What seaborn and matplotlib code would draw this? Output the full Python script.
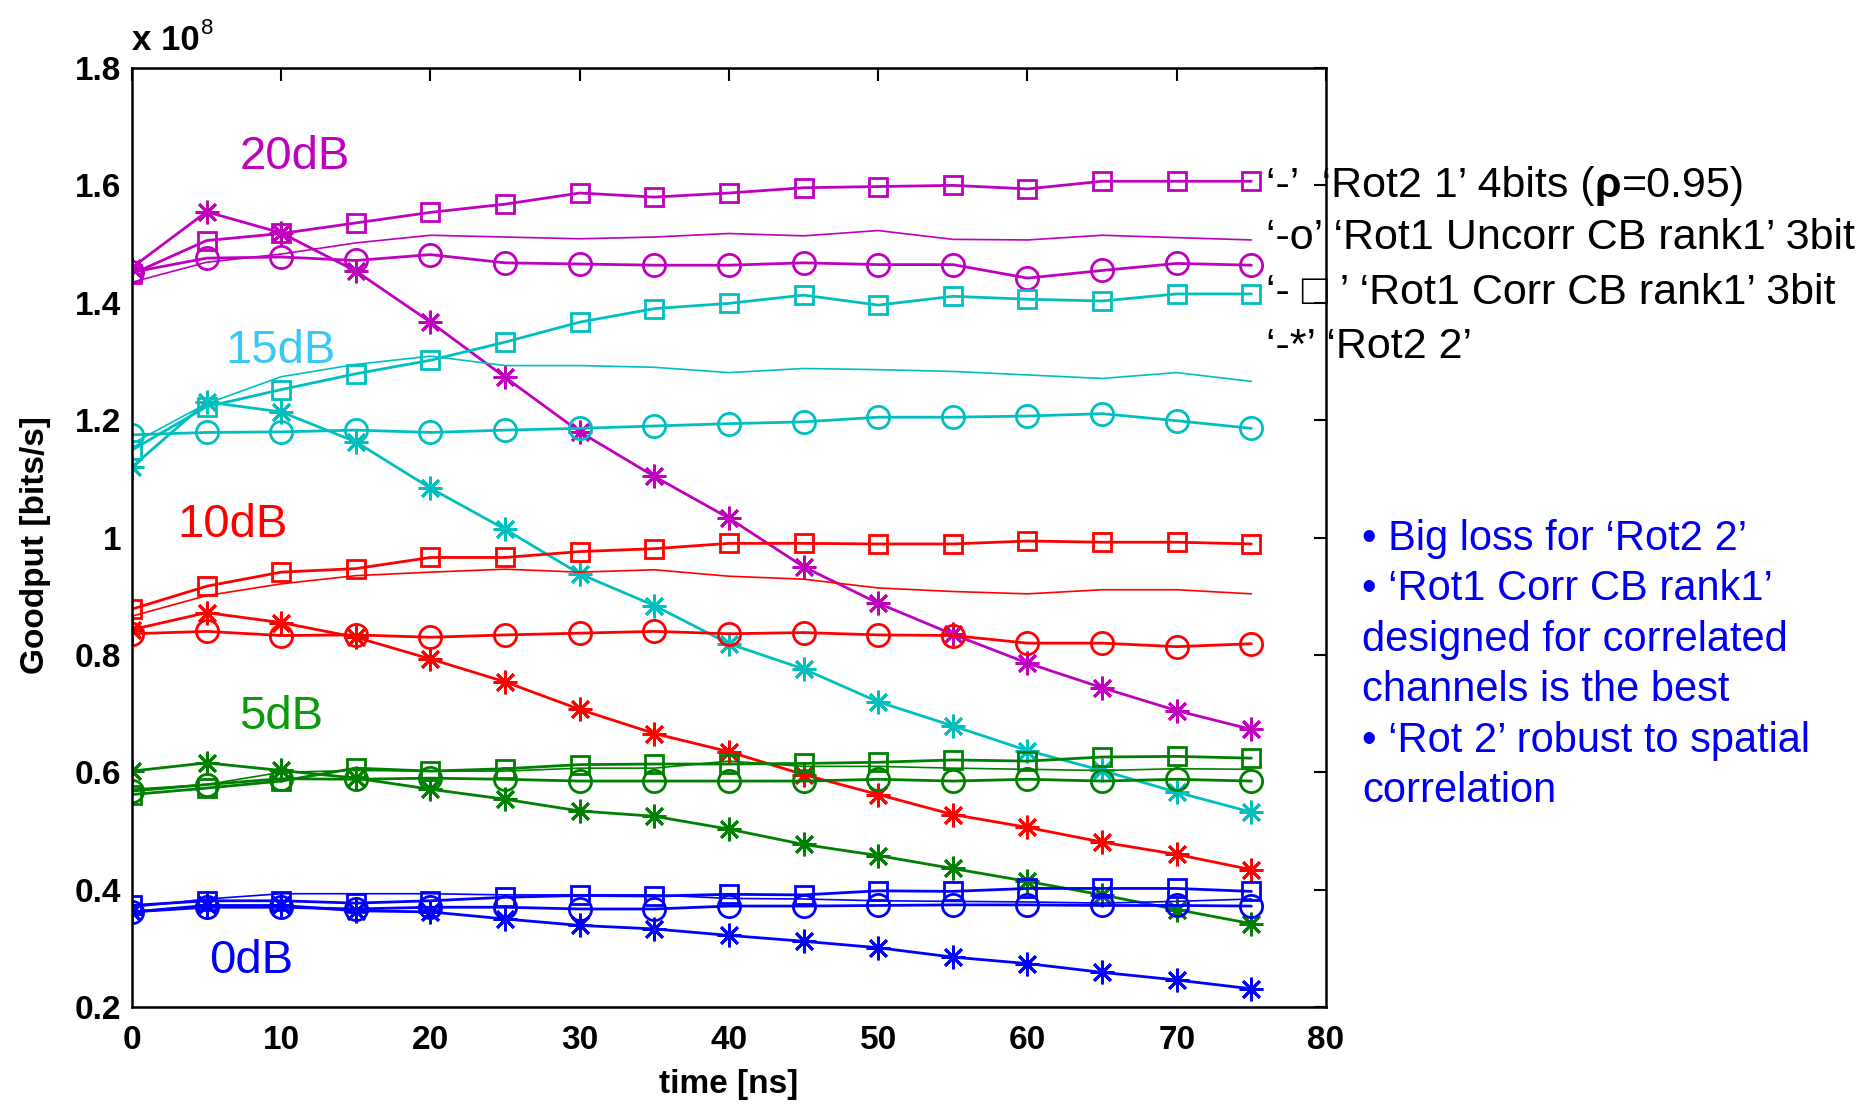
import matplotlib
matplotlib.use("Agg")
import matplotlib.pyplot as plt
import seaborn as sns
import numpy as np

# ---------------- data (goodput in units of 1e8 bits/s) ----------------
time_ns = [0, 5, 10, 15, 20, 25, 30, 35, 40, 45, 50, 55, 60, 65, 70, 75]

# 20 dB
db20_rot21 = [1.435, 1.469, 1.483, 1.502, 1.515, 1.512, 1.509, 1.512, 1.518, 1.514, 1.523, 1.508, 1.507, 1.515, 1.511, 1.507]
db20_uncorr = [1.452, 1.476, 1.478, 1.472, 1.482, 1.468, 1.466, 1.464, 1.464, 1.468, 1.465, 1.465, 1.442, 1.455, 1.467, 1.464]
db20_corr = [1.449, 1.506, 1.518, 1.536, 1.554, 1.568, 1.587, 1.580, 1.587, 1.596, 1.598, 1.600, 1.594, 1.607, 1.607, 1.607]
db20_rot22 = [1.460, 1.555, 1.519, 1.454, 1.367, 1.273, 1.180, 1.104, 1.033, 0.950, 0.888, 0.835, 0.786, 0.744, 0.705, 0.673]
# 15 dB
db15_rot21 = [1.160, 1.228, 1.274, 1.295, 1.309, 1.293, 1.293, 1.290, 1.281, 1.288, 1.286, 1.283, 1.277, 1.271, 1.281, 1.266]
db15_uncorr = [1.175, 1.179, 1.180, 1.183, 1.179, 1.183, 1.186, 1.190, 1.194, 1.197, 1.205, 1.205, 1.207, 1.211, 1.199, 1.186]
db15_corr = [1.149, 1.223, 1.252, 1.279, 1.302, 1.333, 1.367, 1.390, 1.399, 1.413, 1.396, 1.411, 1.406, 1.403, 1.415, 1.415]
db15_rot22 = [1.120, 1.231, 1.214, 1.163, 1.084, 1.014, 0.938, 0.884, 0.819, 0.776, 0.720, 0.679, 0.637, 0.603, 0.566, 0.532]
# 10 dB
db10_rot21 = [0.866, 0.901, 0.921, 0.935, 0.941, 0.946, 0.941, 0.945, 0.934, 0.929, 0.914, 0.908, 0.904, 0.911, 0.911, 0.904]
db10_uncorr = [0.836, 0.840, 0.833, 0.834, 0.830, 0.834, 0.837, 0.840, 0.836, 0.838, 0.834, 0.833, 0.820, 0.820, 0.814, 0.819]
db10_corr = [0.878, 0.917, 0.941, 0.947, 0.966, 0.966, 0.976, 0.981, 0.990, 0.990, 0.989, 0.989, 0.994, 0.992, 0.992, 0.989]
db10_rot22 = [0.843, 0.872, 0.855, 0.830, 0.793, 0.754, 0.707, 0.666, 0.635, 0.596, 0.562, 0.528, 0.506, 0.481, 0.460, 0.434]
# 5 dB
db5_rot21 = [0.571, 0.579, 0.600, 0.603, 0.602, 0.602, 0.607, 0.607, 0.619, 0.610, 0.610, 0.607, 0.605, 0.603, 0.606, 0.605]
db5_uncorr = [0.568, 0.579, 0.589, 0.588, 0.590, 0.588, 0.585, 0.585, 0.585, 0.585, 0.588, 0.585, 0.588, 0.585, 0.588, 0.585]
db5_corr = [0.562, 0.573, 0.585, 0.607, 0.602, 0.606, 0.613, 0.614, 0.614, 0.615, 0.617, 0.621, 0.619, 0.626, 0.627, 0.624]
db5_rot22 = [0.602, 0.616, 0.603, 0.590, 0.571, 0.554, 0.534, 0.525, 0.503, 0.477, 0.458, 0.436, 0.414, 0.391, 0.366, 0.342]
# 0 dB
db0_rot21 = [0.370, 0.384, 0.393, 0.393, 0.393, 0.391, 0.391, 0.391, 0.385, 0.384, 0.381, 0.380, 0.379, 0.377, 0.380, 0.384]
db0_uncorr = [0.362, 0.370, 0.370, 0.367, 0.370, 0.370, 0.367, 0.367, 0.372, 0.372, 0.373, 0.374, 0.374, 0.373, 0.373, 0.372]
db0_corr = [0.373, 0.381, 0.381, 0.377, 0.381, 0.387, 0.390, 0.389, 0.392, 0.391, 0.398, 0.397, 0.402, 0.402, 0.402, 0.397]
db0_rot22 = [0.362, 0.373, 0.373, 0.364, 0.362, 0.350, 0.339, 0.333, 0.322, 0.312, 0.301, 0.285, 0.274, 0.259, 0.246, 0.231]

snr_labels = ["20dB", "15dB", "10dB", "5dB", "0dB"]
y_ticks = [0.2, 0.4, 0.6, 0.8, 1.0, 1.2, 1.4, 1.6, 1.8]
y_tick_labels = ["0.2", "0.4", "0.6", "0.8", "1", "1.2", "1.4", "1.6", "1.8"]
x_ticks = [0, 10, 20, 30, 40, 50, 60, 70, 80]

legend_lines = ["‘-’  ‘Rot2 1’ 4bits (", "‘-o’ ‘Rot1 Uncorr CB rank1’ 3bit",
                "‘- □ ’ ‘Rot1 Corr CB rank1’ 3bit", "‘-*’ ‘Rot2 2’"]
note_text = ("• Big loss for ‘Rot2 2’\n• ‘Rot1 Corr CB rank1’\ndesigned for correlated\n"
             "channels is the best\n• ‘Rot 2’ robust to spatial\ncorrelation")

# ---------------- style ----------------
sns.set_style("white")
plt.rcParams['font.family'] = ['Liberation Sans', 'DejaVu Sans']
plt.rcParams['text.color'] = 'black'
plt.rcParams['axes.labelcolor'] = 'black'

groups = [
    ("#BF00BF", "#C000C0", db20_rot21, db20_uncorr, db20_corr, db20_rot22),
    ("#00BFBF", "#3CC8F5", db15_rot21, db15_uncorr, db15_corr, db15_rot22),
    ("#FF0000", "#FF0000", db10_rot21, db10_uncorr, db10_corr, db10_rot22),
    ("#008000", "#0A9A0A", db5_rot21, db5_uncorr, db5_corr, db5_rot22),
    ("#0000FF", "#0000FF", db0_rot21, db0_uncorr, db0_corr, db0_rot22),
]
label_pos = [(7.2, 1.649), (6.25, 1.317), (3.05, 1.022), (7.2, 0.694), (5.2, 0.279)]

fig = plt.figure(figsize=(18.74, 11.04), dpi=100)
ax = fig.add_axes([132 / 1874, 1 - 1007 / 1104, (1326 - 132) / 1874, (1007 - 68) / 1104])

star = (8, 2, 0)
for (col, lcol, r21, unc, cor, r22), lab, (lx, ly) in zip(groups, snr_labels, label_pos):
    sns.lineplot(x=time_ns, y=r21, ax=ax, color=col, lw=1.2, estimator=None)
    sns.lineplot(x=time_ns, y=unc, ax=ax, color=col, lw=2.0, marker='o', ms=16,
                 mfc='none', mec=col, mew=2.0, estimator=None)
    sns.lineplot(x=time_ns, y=cor, ax=ax, color=col, lw=2.0, marker='s', ms=13,
                 mfc='none', mec=col, mew=2.0, estimator=None)
    sns.lineplot(x=time_ns, y=r22, ax=ax, color=col, lw=2.0, marker=star, ms=17,
                 mfc='none', mec=col, mew=2.0, estimator=None)
    ax.text(lx, ly, lab, color=lcol, fontsize=34, ha='left', va='center')

ax.set_xlim(0, 80)
ax.set_ylim(0.2, 1.8)
ax.set_xticks(x_ticks)
ax.set_xticklabels([str(v) for v in x_ticks], fontweight='bold')
ax.set_yticks(y_ticks)
ax.set_yticklabels(y_tick_labels, fontweight='bold')
ax.tick_params(direction='in', length=9, width=1.5, top=True, right=True,
               labelsize=24, color='black', labelcolor='black')
ax.tick_params(axis='x', pad=13)
ax.tick_params(axis='y', pad=8)
for sp in ax.spines.values():
    sp.set_visible(True)
    sp.set_color('black')
    sp.set_linewidth(1.8)
ax.set_xlabel("")
ax.set_ylabel("")
ax.grid(False)

fig.text(729 / 1874, 1 - 1084 / 1104, "time [ns]", fontsize=24, fontweight='bold',
         ha='center', va='center')
fig.text(36 / 1874, 1 - 545 / 1104, "Goodput [bits/s]", fontsize=24, fontweight='bold',
         ha='center', va='center', rotation=90)
t10 = fig.text(132 / 1874, 1 - 40 / 1104, "x 10", fontsize=25, fontweight='bold',
               ha='left', va='center')
ax.annotate("8", xy=(1.02, 0.85), xycoords=t10, fontsize=16, ha='left', va='center')

# right-hand legend text
leg_x = 76.0
leg_y = [1.599, 1.511, 1.416, 1.324]
texts = []
for s, yv in zip(legend_lines, leg_y):
    tx = ax.text(leg_x, yv, s, fontsize=31, ha='left', va='center', clip_on=False,
                 zorder=1)
    texts.append(tx)
t_rho = ax.annotate("ρ", xy=(1, 0), xycoords=texts[0], fontsize=31, fontweight='bold',
                    ha='left', va='bottom', zorder=1)
ax.annotate("=0.95)", xy=(1, 0), xycoords=t_rho, fontsize=31, ha='left', va='bottom',
            zorder=1)

ax.text(82.4, 0.783, note_text, color='#0000EE', fontsize=30, ha='left', va='center',
        linespacing=1.34, clip_on=False)

fig.savefig("out.png", dpi=100)
